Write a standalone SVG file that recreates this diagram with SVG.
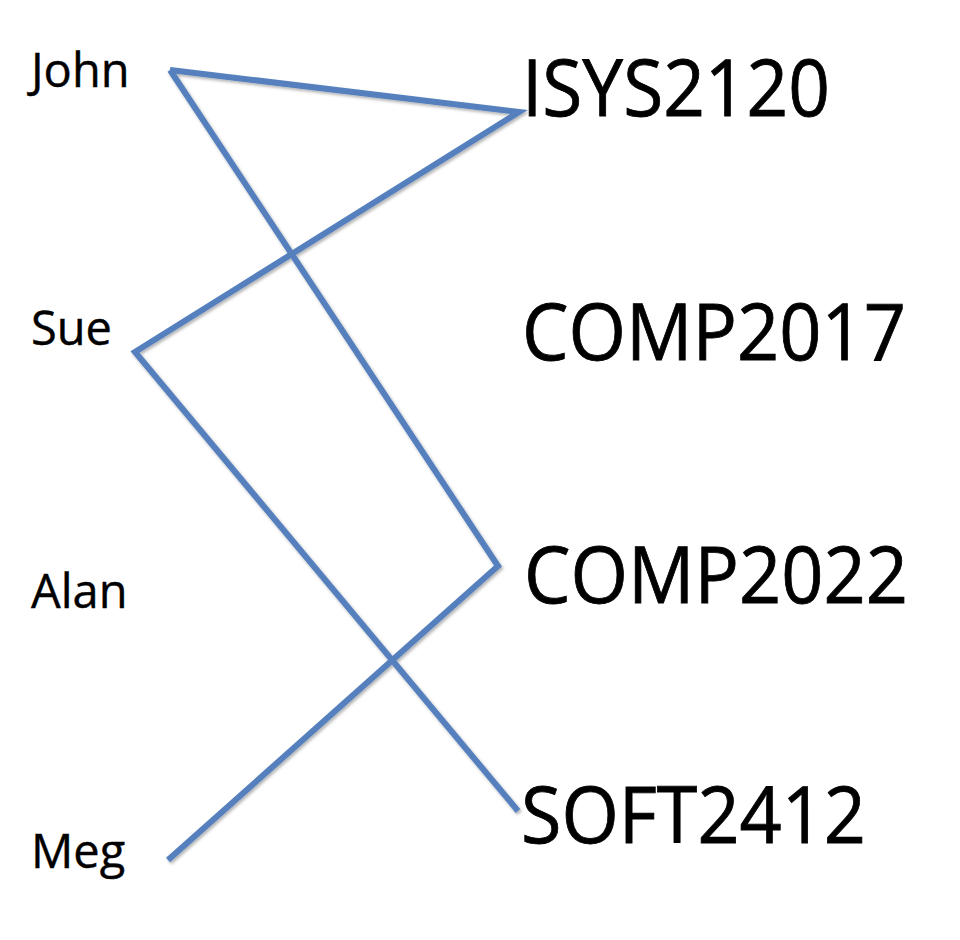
<svg xmlns="http://www.w3.org/2000/svg" width="960" height="940" viewBox="0 0 960 940">
  <defs>
    <filter id="shadow" x="-10%" y="-10%" width="120%" height="120%">
      <feDropShadow dx="1.5" dy="2" stdDeviation="1.5" flood-color="#000" flood-opacity="0.3"/>
    </filter>
  </defs>
  <style>
    .small { font-family: "Open Sans", "Noto Sans", sans-serif; font-size: 47px; fill: #000; stroke: #000; stroke-width: 0.4; }
    .big { font-family: "Open Sans", "Noto Sans", sans-serif; font-size: 78px; fill: #000; stroke: #000; stroke-width: 0.8; }
    .conn { fill: none; stroke: #5580bd; stroke-width: 6; stroke-linejoin: miter; stroke-linecap: butt; }
  </style>
  <rect width="960" height="940" fill="#fff"/>
  <g id="connectors" filter="url(#shadow)">
    <polyline class="conn" points="170,70 519,112 135,352 518,811"/>
    <polyline class="conn" points="170,70 498,566 168,860"/>
  </g>
  <g id="john"><text class="small" x="31" y="87">John</text></g>
  <g id="sue"><text class="small" x="31" y="345">Sue</text></g>
  <g id="alan"><text class="small" x="31" y="608">Alan</text></g>
  <g id="meg"><text class="small" x="31" y="868">Meg</text></g>
  <g id="isys2120"><text class="big" x="522" y="116" textLength="308" lengthAdjust="spacingAndGlyphs">ISYS2120</text></g>
  <g id="comp2017"><text class="big" x="522" y="360" textLength="384" lengthAdjust="spacingAndGlyphs">COMP2017</text></g>
  <g id="comp2022"><text class="big" x="524" y="603" textLength="384" lengthAdjust="spacingAndGlyphs">COMP2022</text></g>
  <g id="soft2412"><text class="big" x="521" y="843" textLength="345" lengthAdjust="spacingAndGlyphs">SOFT2412</text></g>
</svg>
